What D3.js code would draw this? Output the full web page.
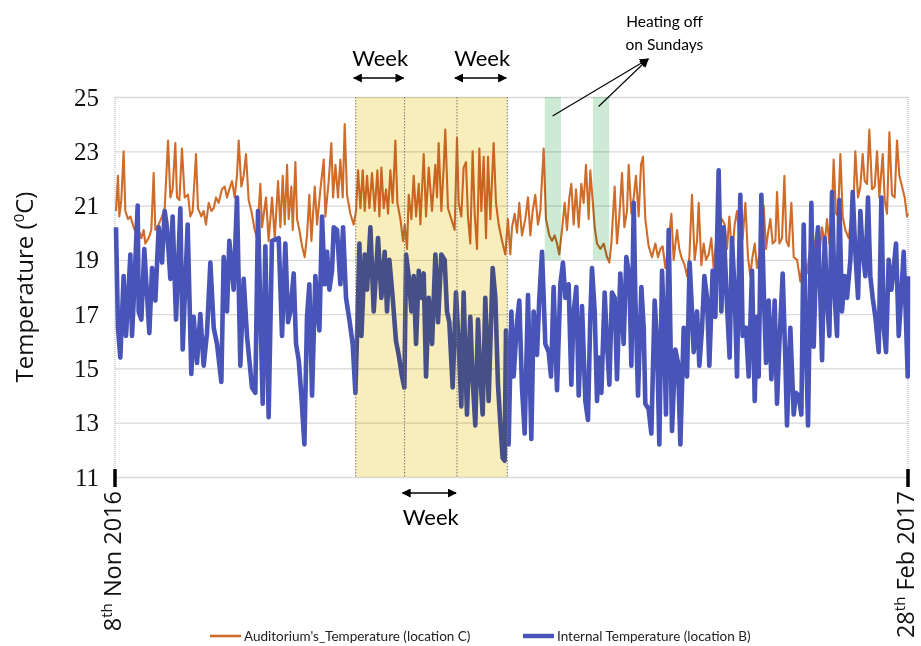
<!DOCTYPE html>
<html>
<head>
<meta charset="utf-8">
<script src="https://cdn.jsdelivr.net/npm/d3@7"></script>
<style>
  body { margin: 0; background: #fff; }
  svg { display: block; }
</style>
</head>
<body>
<div id="chart"></div>
<script>
// days since 8 Nov 2016, temperature in degC
var internalReadings = [
  [0.14,20.2],[0.42,16.5],[0.75,15.4],[1.22,18.4],[1.55,16.2],[1.84,17.5],[2.17,19.2],[2.40,16.2],[2.64,17.5],[3.20,21.0],
  [3.34,17.1],[3.72,16.8],[4.14,19.4],[4.43,18.1],[4.85,16.3],[5.23,18.7],[5.70,17.5],[6.17,20.2],[6.64,18.9],[7.02,20.8],
  [7.34,20.2],[7.82,18.3],[8.14,20.6],[8.62,16.8],[9.23,20.9],[9.56,15.7],[10.26,20.3],[10.78,14.8],[11.11,16.9],[11.58,15.2],
  [12.05,17.0],[12.52,15.1],[12.99,16.3],[13.47,18.9],[13.94,16.5],[14.41,15.9],[15.02,14.5],[15.35,19.1],[15.82,17.1],[16.15,19.7],
  [16.76,17.9],[17.23,21.3],[17.70,15.1],[18.17,18.3],[18.64,16.2],[19.35,14.3],[19.82,14.1],[20.20,20.8],[20.53,17.1],[20.86,13.7],
  [21.23,19.5],[21.70,13.2],[22.17,19.7],
  [23.12,19.8],[23.59,16.2],[24.06,19.6],[24.44,16.7],[24.77,17.1],[25.24,18.5],[25.57,15.9],[25.95,15.3],[26.32,14.0],[26.75,12.2],
  [27.12,16.9],[27.45,18.1],[27.83,14.0],[28.30,18.4],[28.68,16.9],[28.87,16.4],[29.24,20.6],[29.62,18.1],[29.95,19.3],[30.28,17.9],
  [30.65,18.6],[30.89,20.2],[31.36,20.1],[31.83,18.1],[32.21,20.2],[32.63,17.6],[33.10,16.8],[33.57,15.9],[33.95,14.1],[34.33,17.6],
  [34.52,19.6],[34.80,16.2],[35.27,19.2],[35.60,17.9],[36.07,20.2],[36.54,17.1],[37.15,19.8],[37.62,17.6],[38.09,19.3],[38.42,17.1],
  [38.75,19.0],[39.22,17.6],[39.69,16.0],[40.07,15.5],[40.54,14.7],[40.87,14.3],[41.11,19.2],[41.48,18.4],[41.86,17.1],[42.19,18.4],
  [42.52,15.9],[42.90,18.6],[43.27,17.6],[43.60,18.5],[43.93,14.7],[44.31,17.6],[44.78,15.9],[45.25,19.2],
  [45.62,16.7],[46.09,19.2],[46.56,19.0],[46.89,17.1],[47.22,16.7],[47.69,14.3],[48.16,17.8],[48.54,15.9],[48.91,13.6],[49.24,17.8],
  [49.71,13.3],[50.18,16.9],[50.51,14.6],[50.89,12.9],[51.27,16.8],[51.60,14.7],[51.93,13.3],[52.30,17.6],[52.77,13.8],[53.34,18.7],
  [53.72,17.6],[54.09,14.4],[54.42,13.0],[54.75,11.7],[55.03,11.6],[55.22,16.4],[55.60,12.2],[55.98,17.1],[56.30,14.7],[56.78,16.7],
  [57.10,17.5],[57.48,14.3],[57.86,12.6],[58.33,17.7],[58.80,12.4],[59.13,17.1],[59.60,15.5],[59.93,17.6],[60.31,19.3],[60.78,15.9],
  [61.25,15.6],[61.58,14.7],[61.95,18.0],[62.43,14.2],[62.90,18.1],[63.27,18.9],[63.60,17.6],[64.07,18.1],[64.45,14.4],[64.78,17.1],
  [65.16,18.0],[65.49,14.0],[65.96,17.3],[66.43,13.8],[66.80,13.1],[67.13,16.9],
  [67.37,18.7],[67.75,17.1],[68.08,13.8],[68.31,15.4],[68.69,14.1],[69.16,17.8],[69.49,15.9],[69.82,14.4],[70.19,17.8],[70.57,17.6],
  [70.90,14.6],[71.37,18.5],[71.84,15.9],[72.22,19.1],[72.64,18.4],[72.93,15.1],[73.26,21.1],[73.49,17.6],[73.87,14.0],[74.34,18.0],
  [74.67,16.5],[74.90,13.7],[75.37,13.5],[75.75,12.6],[76.22,17.5],[76.55,16.0],[76.88,12.2],[77.26,18.6],[77.49,16.9],[77.82,13.3],
  [78.20,20.1],[78.67,12.7],[79.14,15.7],[79.52,15.2],[79.85,12.2],[80.32,16.5],[80.79,14.7],[81.16,18.9],[81.49,17.1],[81.73,15.6],
  [82.20,17.1],[82.53,15.1],[82.91,16.5],[83.24,18.4],[83.61,17.6],[83.94,15.1],[84.41,18.6],[84.79,16.9],[85.26,22.3],[85.64,17.1],
  [85.97,20.2],[86.44,17.3],[86.81,15.4],[87.14,19.8],[87.52,17.8],[87.85,14.7],[88.32,21.4],[88.65,16.2],[89.12,16.5],[89.50,14.7],
  [89.97,18.6],
  [90.35,13.8],[90.68,16.9],[90.91,14.7],[91.29,21.4],[91.62,17.9],[91.95,15.2],[92.32,17.5],[92.70,14.6],[93.17,17.5],[93.50,13.7],
  [93.83,15.9],[94.30,18.5],[94.68,15.3],[94.91,12.9],[95.38,16.5],[95.86,13.3],[96.18,14.1],[96.56,14.0],[96.94,13.3],[97.27,20.3],
  [97.60,15.9],[97.88,12.9],[98.35,21.1],[98.68,15.8],[99.01,19.0],[99.29,20.2],[99.62,17.6],[99.86,15.3],[100.23,19.8],[100.56,17.6],
  [100.89,16.2],[101.27,21.5],[101.65,17.6],[101.98,16.2],[102.30,21.2],[102.68,17.1],[103.06,18.4],[103.39,17.6],[103.86,19.0],[104.19,21.5],
  [104.56,19.3],[104.94,17.6],[105.27,20.8],[105.60,19.3],[105.98,18.4],[106.35,21.3],[106.68,18.4],[107.01,17.6],[107.39,16.9],[107.86,15.6],
  [108.24,21.3],[108.57,16.5],[108.90,15.6],[109.27,19.0],[109.65,17.9],[109.98,18.7],[110.31,19.6],[110.69,16.2],[111.02,17.6],[111.39,19.3],
  [111.72,16.7],[111.96,14.7],[112.0,18.4]
];

var auditoriumReadings = [
  [0.14,20.8],[0.42,22.1],[0.61,20.6],[0.89,21.2],[1.22,23.0],[1.46,20.8],[1.84,20.5],[2.17,20.6],[2.64,20.2],[2.97,20.0],
  [3.34,20.1],[3.72,19.8],[4.05,20.1],[4.28,19.6],[4.75,19.8],[5.13,20.1],[5.46,22.2],[5.70,20.1],[6.17,20.3],[6.64,20.6],
  [7.02,20.9],[7.49,23.4],[7.82,21.3],[8.14,21.6],[8.52,23.3],[8.76,21.3],[9.09,21.2],[9.46,23.1],[9.84,21.3],[10.31,21.4],
  [10.64,20.6],[10.97,20.8],[11.44,22.9],[11.72,20.9],[12.19,20.6],[12.52,20.8],[12.85,20.3],[13.23,21.1],[13.61,20.8],[13.94,20.9],
  [14.27,21.3],[14.64,21.1],[15.11,21.6],[15.49,21.7],[15.82,21.3],[16.15,21.6],[16.53,21.9],[16.90,21.3],[17.23,22.1],[17.47,23.4],
  [17.84,21.7],[18.17,22.1],[18.50,22.9],[18.88,21.2],[19.26,20.8],[19.73,20.1],[20.06,19.8],[20.53,21.8],[20.76,20.2],[21.33,21.3],
  [21.70,19.7],
  [22.18,21.3],[22.56,19.8],[23.03,21.9],[23.36,20.2],[23.69,22.1],[23.97,20.3],[24.30,22.5],[24.53,20.5],[24.91,21.7],[25.10,20.1],
  [25.48,22.6],[25.71,20.5],[26.04,20.1],[26.42,19.5],[26.79,19.1],[27.12,19.9],[27.45,21.4],[27.74,19.7],[28.21,21.7],[28.54,20.3],
  [29.01,21.6],[29.48,22.7],[29.71,20.6],[30.18,21.9],[30.56,23.3],[30.80,21.3],[31.13,22.5],[31.50,21.3],[31.83,22.7],[32.16,21.3],
  [32.44,24.0],[32.77,21.4],[33.24,20.7],[33.71,20.3],[34.04,20.8],[34.33,22.3],[34.66,20.9],[34.99,22.3],[35.27,20.8],[35.60,22.1],
  [35.93,20.9],[36.30,22.2],[36.68,20.8],[37.06,22.3],[37.34,20.6],[37.62,22.4],[37.95,20.9],[38.28,21.6],[38.56,20.7],[38.89,22.3],
  [39.22,21.1],[39.60,23.4],[39.88,21.1],[40.31,20.5],[40.68,19.7],[40.92,20.3],[41.25,19.4],[41.48,21.4],[41.86,20.5],[42.19,22.1],
  [42.52,20.6],[42.90,21.8],[43.13,20.3],[43.60,22.9],[43.93,20.6],[44.31,22.4],[44.69,21.1],
  [44.77,20.8],[45.24,22.5],[45.48,21.3],[45.71,23.3],[46.09,20.8],[46.42,22.4],[46.65,23.8],[47.03,20.9],[47.50,20.5],[47.97,20.1],
  [48.30,23.5],[48.54,21.1],[48.91,20.6],[49.24,22.4],[49.57,22.6],[49.85,20.6],[50.18,19.6],[50.51,23.0],[50.80,20.7],[51.13,19.4],
  [51.46,23.1],[51.74,20.8],[52.07,22.8],[52.40,19.8],[52.68,22.8],[53.01,20.5],[53.48,23.3],[53.81,21.1],[54.19,20.3],[54.66,19.7],
  [55.13,19.2],[55.50,20.5],[55.83,19.2],[56.07,20.2],[56.45,20.7],[56.78,20.0],[57.10,21.1],[57.48,19.9],[57.95,20.5],[58.33,21.3],
  [58.66,19.9],[58.99,20.8],[59.36,21.4],[59.74,20.3],[60.07,20.8],[60.54,23.1],[60.87,20.5],[61.34,19.9],[61.72,19.7],[62.10,19.9],
  [62.43,19.6],[62.75,19.2],[63.13,20.1],[63.51,21.1],[63.84,20.1],[64.17,21.3],[64.45,21.8],[64.78,20.3],[65.11,21.6],[65.49,20.2],
  [65.86,21.8],[66.19,21.1],[66.52,22.5],[66.90,20.5],[67.13,22.3],
  [67.75,20.2],[68.08,19.6],[68.55,19.4],[69.02,19.6],[69.49,19.1],[69.82,18.9],[70.10,19.6],[70.57,21.7],[70.90,19.6],[71.23,20.6],
  [71.61,22.2],[71.94,20.2],[72.31,20.8],[72.55,22.5],[72.93,20.7],[73.26,21.3],[73.58,22.1],[73.96,20.6],[74.29,22.5],[74.57,22.8],
  [74.90,20.5],[75.37,19.5],[75.84,19.1],[76.32,19.6],[76.69,19.1],[77.02,19.4],[77.35,19.5],[77.73,18.7],[78.10,19.4],[78.58,20.7],
  [78.90,19.0],[79.38,20.1],[79.70,19.4],[79.99,19.1],[80.46,18.8],[80.79,18.4],[81.12,19.1],[81.49,21.4],[81.87,19.0],[82.20,19.7],
  [82.44,21.1],[82.81,18.8],[83.14,19.6],[83.47,19.0],[83.85,19.2],[84.22,19.8],[84.55,18.7],[84.88,19.6],[85.26,20.1],[85.73,20.5],
  [86.11,20.3],[86.44,19.4],[86.77,20.6],[87.14,19.1],[87.52,20.3],[87.85,20.8],[88.32,19.4],[88.65,19.8],[89.03,21.1],[89.40,19.1],
  [89.73,18.4],
  [89.97,19.0],[90.35,19.6],[90.68,18.7],[91.15,19.4],[91.62,21.0],[91.95,19.4],[92.23,20.0],[92.56,20.5],[92.89,19.6],[93.27,19.7],
  [93.50,21.5],[93.83,19.6],[94.21,19.8],[94.54,22.1],[94.82,19.7],[95.15,19.5],[95.53,21.1],[95.86,19.1],[96.33,19.0],[96.80,18.2],
  [97.27,19.2],[97.74,18.5],[98.21,19.5],[98.54,19.1],[98.82,19.6],[99.15,20.1],[99.48,19.2],[99.86,20.2],[100.23,19.6],[100.56,20.5],
  [100.89,19.6],[101.18,20.3],[101.50,22.7],[101.83,20.7],[102.12,20.6],[102.45,22.9],[102.78,20.6],[103.15,20.1],[103.62,19.8],[104.00,20.6],
  [104.33,21.3],[104.56,23.0],[104.94,21.3],[105.27,21.7],[105.60,22.9],[105.88,21.9],[106.21,21.8],[106.54,23.8],[106.92,21.6],[107.30,21.7],
  [107.63,23.0],[107.95,21.3],[108.43,22.9],[108.71,21.2],[109.04,20.7],[109.37,23.7],[109.74,21.4],[110.12,21.3],[110.45,23.4],[110.78,22.1],
  [111.16,21.7],[111.53,21.3],[111.86,20.6],[112.0,20.7]
];

var yTicks = [11, 13, 15, 17, 19, 21, 23, 25];
var dayRange = [0, 112];
var dateLabels = [["8", "th", " Non 2016"], ["28", "th", " Feb 2017"]];
var weekBounds = [34, 40.9, 48.3, 55.4];
var sundayBands = [[60.7, 63.0], [67.5, 69.8]];
var seriesNames = ["Auditorium's_Temperature (location C)", "Internal Temperature (location B)"];

var orange = "#d06c2a";
var blue = "#4854b8";

var width = 921, height = 646;
var margin = { top: 97, right: 13, bottom: 169, left: 115 };

var svg = d3.select("#chart").append("svg")
  .attr("width", width)
  .attr("height", height);

var defs = svg.append("defs");
defs.append("marker")
  .attr("id", "head")
  .attr("viewBox", "0 0 10 10")
  .attr("refX", 9).attr("refY", 5)
  .attr("markerWidth", 9).attr("markerHeight", 9)
  .attr("markerUnits", "userSpaceOnUse")
  .attr("orient", "auto-start-reverse")
  .append("path").attr("d", "M0,0 L10,5 L0,10 Z").attr("fill", "#000");

var x = d3.scaleLinear().domain(dayRange).range([margin.left, width - margin.right]);
var y = d3.scaleLinear().domain([11, 25]).range([height - margin.bottom, margin.top]);

// gridlines + y labels
var yAxis = svg.append("g")
  .attr("transform", "translate(" + margin.left + ",0)")
  .call(d3.axisLeft(y).tickValues(yTicks).tickSizeInner(-(x(112) - x(0))).tickSizeOuter(0).tickPadding(16));
yAxis.select(".domain").remove();
yAxis.selectAll("line").attr("stroke", "#d9d9d9").attr("stroke-width", 1.3);
yAxis.selectAll("text")
  .attr("font-family", "Liberation Serif, serif")
  .attr("font-size", 25)
  .attr("fill", "#111");

// plot edges
svg.selectAll(".edge").data(dayRange).enter().append("line")
  .attr("x1", d => x(d)).attr("x2", d => x(d))
  .attr("y1", y(25)).attr("y2", y(11))
  .attr("stroke", "#aaa").attr("stroke-dasharray", "1,1");

// lines
var line = d3.line().x(d => x(d[0])).y(d => y(d[1]));

svg.append("path").datum(auditoriumReadings)
  .attr("d", line).attr("fill", "none")
  .attr("stroke", orange).attr("stroke-width", 2.1).attr("stroke-linejoin", "round");

svg.append("path").datum(internalReadings)
  .attr("d", line).attr("fill", "none")
  .attr("stroke", blue).attr("stroke-width", 4.6).attr("stroke-linejoin", "round");

// shaded weeks (yellow) and Sundays (green)
svg.append("rect")
  .attr("x", x(weekBounds[0])).attr("width", x(weekBounds[3]) - x(weekBounds[0]))
  .attr("y", y(25)).attr("height", y(11) - y(25))
  .attr("fill", "#f8eebc").style("mix-blend-mode", "multiply");

svg.selectAll(".sunday").data(sundayBands).enter().append("rect")
  .attr("x", d => x(d[0])).attr("width", d => x(d[1]) - x(d[0]))
  .attr("y", y(25)).attr("height", y(19) - y(25))
  .attr("fill", "#cdebd4").style("mix-blend-mode", "multiply");

svg.selectAll(".weekline").data(weekBounds).enter().append("line")
  .attr("x1", d => x(d)).attr("x2", d => x(d))
  .attr("y1", y(25)).attr("y2", y(11))
  .attr("stroke", "#777").attr("stroke-width", 1).attr("stroke-dasharray", "1.5,1.5");

// week arrows
function weekArrow(a, b, yArrow, yText) {
  svg.append("line")
    .attr("x1", x(a) - 2).attr("x2", x(b) - 1)
    .attr("y1", yArrow).attr("y2", yArrow)
    .attr("stroke", "#000").attr("stroke-width", 1.6)
    .attr("marker-start", "url(#head)").attr("marker-end", "url(#head)");
  svg.append("text")
    .attr("x", (x(a) + x(b)) / 2).attr("y", yText)
    .attr("text-anchor", "middle")
    .attr("font-family", "Lato, sans-serif").attr("font-size", 22)
    .text("Week");
}
weekArrow(weekBounds[0], weekBounds[1], y(25) - 19, y(25) - 31);
weekArrow(weekBounds[2], weekBounds[3], y(25) - 19, y(25) - 31);
weekArrow(weekBounds[1], weekBounds[2], y(11) + 16, y(11) + 48);

// Sunday pointer
var pointerTip = [75.3, 26.4];
var pointerFrom = [[61.8, 24.3], [68.3, 24.65]];
svg.selectAll(".pointer").data(pointerFrom).enter().append("line")
  .attr("x1", d => x(d[0])).attr("y1", d => y(d[1]))
  .attr("x2", x(pointerTip[0])).attr("y2", y(pointerTip[1]))
  .attr("stroke", "#000").attr("stroke-width", 1.1)
  .attr("marker-end", "url(#head)");

var note = svg.append("text")
  .attr("text-anchor", "middle")
  .attr("font-family", "Lato, sans-serif").attr("font-size", 15.5);
note.append("tspan").attr("x", x(77.6)).attr("y", 27).text("Heating off");
note.append("tspan").attr("x", x(77.6)).attr("y", 50).text("on Sundays");

// x ticks and date labels
svg.selectAll(".xtick").data(dayRange).enter().append("line")
  .attr("x1", d => x(d)).attr("x2", d => x(d))
  .attr("y1", y(11) - 8).attr("y2", y(11) + 10)
  .attr("stroke", "#000").attr("stroke-width", 3.5);

dateLabels.forEach(function (parts, i) {
  var t = svg.append("text")
    .attr("transform", "translate(" + (x(dayRange[i]) + 6) + "," + (y(11) + 14) + ") rotate(-90)")
    .attr("text-anchor", "end")
    .attr("font-family", "Open Sans, sans-serif").attr("font-size", 23.5)
    .attr("fill", "#111");
  t.append("tspan").text(parts[0]);
  t.append("tspan").attr("font-size", 15).attr("dy", -9).text(parts[1]);
  t.append("tspan").attr("dy", 9).text(parts[2]);
});

// y title
var yt = svg.append("text")
  .attr("transform", "translate(33," + ((y(11) + y(25)) / 2) + ") rotate(-90)")
  .attr("text-anchor", "middle")
  .attr("font-family", "Open Sans, sans-serif").attr("font-size", 24)
  .attr("fill", "#111");
yt.append("tspan").text("Temperature (");
yt.append("tspan").attr("font-size", 15).attr("dy", -9).text("0");
yt.append("tspan").attr("dy", 9).text("C)");

// legend
var legend = svg.append("g").attr("font-family", "Lato, sans-serif").attr("font-size", 13.5).attr("fill", "#222");
var legendItems = [
  { name: seriesNames[0], color: orange, w: 2.6, x0: 210 },
  { name: seriesNames[1], color: blue, w: 4.5, x0: 523 }
];
legendItems.forEach(function (d) {
  legend.append("line")
    .attr("x1", d.x0).attr("x2", d.x0 + 31)
    .attr("y1", 636).attr("y2", 636)
    .attr("stroke", d.color).attr("stroke-width", d.w);
  legend.append("text")
    .attr("x", d.x0 + 34).attr("y", 636).attr("dy", "0.35em")
    .text(d.name);
});
</script>
</body>
</html>
